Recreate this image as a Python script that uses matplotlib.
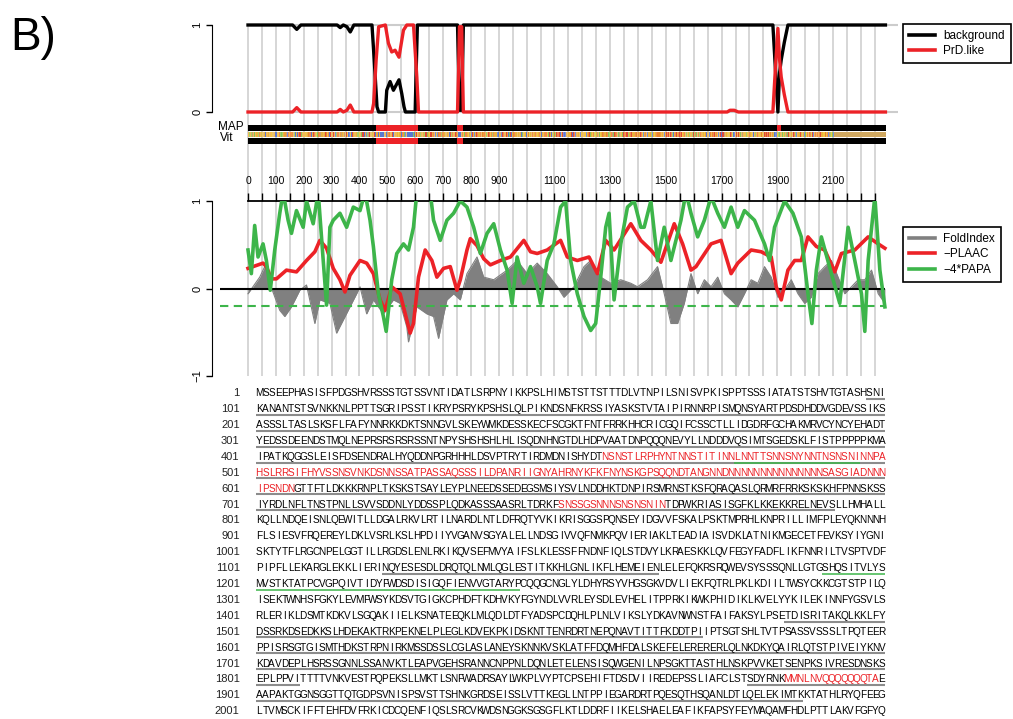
import numpy as np
import matplotlib
matplotlib.use('Agg')
import matplotlib.pyplot as plt
from matplotlib.lines import Line2D
from matplotlib.colors import to_rgb

W, H = 1013, 719
plt.rcParams['font.family'] = ['Liberation Sans', 'DejaVu Sans']
NARROW = ['Liberation Sans Narrow', 'Liberation Sans', 'DejaVu Sans']

# --- data -------------------------------------------------------------
L = 2288  # protein length

# top panel: posterior of the HMM states
bg_res = [0, 160, 175, 190, 320, 331, 342, 355, 367, 380, 445, 453, 463, 469, 493,
          498, 510, 522, 542, 552, 560, 565, 600, 603, 608, 752, 756, 759, 767, 770, 773,
          1884, 1893, 1902, 1908, 1914, 1925, 1938, L]
bg_val = [1, 1, 0.95, 1, 1, 0.97, 1, 0.98, 0.92, 1, 1, 0.6, 0.06, 0.0, 0.0,
          0.25, 0.35, 0.25, 0.37, 0.21, 0.06, 0.0, 0.0, 0.4, 1, 1, 0.5, 0.02, 0.02, 0.5, 1,
          1, 0.5, 0.0, 0.45, 0.6, 0.8, 1, 1]
prd_res = [0, 160, 175, 190, 320, 331, 342, 355, 367, 380, 445, 451, 460, 469, 493,
           504, 516, 528, 542, 558, 570, 594, 606, 612, 752, 756, 759, 767, 770, 773,
           1720, 1730, 1745, 1760, 1884, 1893, 1902, 1908, 1914, 1925, 1938, L]
prd_val = [0, 0, 0.05, 0, 0, 0.03, 0, 0.02, 0.08, 0, 0, 0.1, 0.6, 0.98, 1.0,
           0.79, 0.69, 0.71, 0.63, 0.94, 1.0, 1.0, 0.4, 0.0, 0, 0.5, 0.98, 0.98, 0.5, 0,
           0, 0.02, 0.02, 0, 0, 0.5, 0.96, 0.6, 0.4, 0.2, 0, 0]

# MAP / Viterbi PrD-like segments (residues)
map_segments = [(459, 609), (752, 771), (1898, 1910)]
vit_segments = [(459, 609), (752, 771)]

# bottom panel
fold_res = [0, 42, 60, 78, 114, 132, 156, 186, 210, 240, 258, 294, 318, 342, 366, 390, 402,
            426, 450, 486, 522, 546, 570, 576, 606, 642, 666, 684, 714, 738, 762, 786, 822,
            846, 882, 930, 966, 1002, 1038, 1074, 1110, 1134, 1170, 1206, 1230, 1266, 1302,
            1338, 1374, 1398, 1434, 1470, 1494, 1518, 1542, 1566, 1590, 1614, 1638, 1662,
            1686, 1710, 1734, 1758, 1782, 1806, 1830, 1854, 1878, 1902, 1926, 1950, 1974,
            1998, 2022, 2046, 2070, 2094, 2118, 2142, 2166, 2190, 2214, 2238, 2262, 2286]
fold_val = [-0.06, 0.13, 0.25, 0.06, -0.25, -0.32, -0.21, -0.02, 0.04, -0.40, -0.13, -0.17,
            -0.51, -0.36, -0.21, -0.06, 0.02, -0.29, -0.13, -0.29, -0.13, -0.17, -0.44, -0.61,
            -0.21, -0.29, -0.32, -0.57, -0.13, -0.06, -0.13, 0.17, 0.36, 0.13, 0.10, 0.21,
            0.32, 0.17, 0.29, 0.17, 0.02, -0.10, 0.02, 0.25, 0.32, 0.13, 0.06, 0.10, 0.06,
            0.02, 0.10, 0.25, -0.06, -0.40, -0.40, -0.17, 0.17, -0.06, 0.10, 0.02, 0.13,
            -0.06, -0.13, -0.21, -0.06, 0.10, 0.06, 0.25, 0.13, -0.10, -0.02, 0.10, -0.06,
            -0.17, -0.10, 0.17, 0.25, 0.32, 0.13, -0.06, 0.02, 0.10, 0.10, 0.21, -0.06, -0.17]

plaac_res = [0, 54, 66, 84, 102, 138, 174, 210, 240, 258, 282, 306, 330, 348, 366, 402, 426,
             450, 474, 492, 516, 546, 570, 582, 594, 612, 636, 660, 678, 702, 726, 750, 762,
             786, 798, 822, 846, 870, 906, 942, 990, 1014, 1038, 1074, 1122, 1146, 1182, 1224,
             1254, 1284, 1314, 1374, 1410, 1446, 1482, 1530, 1560, 1590, 1608, 1662, 1698,
             1734, 1758, 1806, 1842, 1878, 1896, 1914, 1938, 1962, 1986, 2010, 2040, 2070,
             2106, 2130, 2178, 2226, 2262, 2286]
plaac_val = [0.23, 0.29, 0.25, 0.11, 0.11, 0.21, 0.19, 0.32, 0.42, 0.55, 0.46, 0.23, 0.10,
             -0.04, 0.15, 0.32, 0.29, 0.17, -0.13, -0.25, 0.02, -0.06, -0.36, -0.51, -0.40,
             0.13, 0.44, 0.32, 0.13, 0.23, 0.25, -0.02, 0.10, 0.44, 0.57, 0.49, 0.34, 0.27,
             0.32, 0.36, 0.55, 0.42, 0.40, 0.44, 0.55, 0.36, 0.32, 0.36, 0.17, 0.55, 0.44,
             0.74, 0.55, 0.44, 0.30, 0.74, 0.51, 0.21, 0.25, 0.51, 0.55, 0.17, 0.29, 0.44,
             0.42, 0.36, 0.02, -0.13, 0.21, 0.32, 0.32, 0.59, 0.48, 0.44, 0.19, 0.40, 0.44,
             0.59, 0.51, 0.46]

papa_res = [0, 12, 24, 36, 54, 66, 80, 96, 114, 126, 144, 156, 174, 198, 210, 234, 252, 270,
            282, 294, 306, 330, 354, 378, 402, 420, 438, 450, 468, 486, 496, 516, 534, 558,
            576, 594, 606, 630, 654, 666, 690, 714, 738, 762, 786, 810, 834, 858, 882, 906,
            930, 948, 966, 990, 1014, 1038, 1050, 1074, 1098, 1122, 1140, 1158, 1182, 1206,
            1230, 1248, 1266, 1284, 1296, 1314, 1338, 1362, 1386, 1410, 1422, 1446, 1470,
            1494, 1518, 1554, 1572, 1590, 1614, 1638, 1662, 1686, 1710, 1734, 1758, 1782,
            1818, 1854, 1872, 1890, 1926, 1956, 1986, 2010, 2024, 2040, 2058, 2094, 2124,
            2154, 2178, 2202, 2214, 2226, 2250, 2268, 2286]
papa_val = [0.44, 0.17, 0.72, 0.36, 0.51, 0.32, -0.02, 0.44, 0.86, 1.1, 0.78, 0.63, 0.89,
            0.70, 1.0, 0.74, 1.1, 0.32, -0.19, 0.70, 0.78, 0.86, 0.70, 0.93, 0.89, 1.1, 0.78,
            0.48, -0.06, -0.32, -0.49, 0.10, 0.40, 0.51, 0.44, 0.70, 1.1, 1.2, 1.1, 0.78, 0.55,
            0.78, 0.86, 1.0, 0.93, 0.70, 0.40, 0.63, 0.74, 0.44, 0.21, -0.17, 0.36, 0.06, 0.25,
            0.02, -0.17, 0.32, 0.51, 0.93, 1.0, 0.32, -0.06, -0.32, -0.48, -0.40, 0.13, 0.70,
            0.86, -0.13, 0.51, 0.93, 1.0, 0.70, 0.70, 1.0, 0.32, 0.70, 0.32, 0.78, 1.1, 0.86,
            0.59, 0.78, 1.05, 0.86, 0.70, 0.93, 0.70, 0.89, 0.78, 0.51, 0.32, 0.70, 1.0, 0.86,
            0.59, -0.06, -0.40, 0.21, 0.59, 0.17, -0.17, 0.70, 0.32, -0.06, -0.49, 0.32, 1.05,
            0.21, -0.21]
papa_cut = -0.2

ruler_labels = [0, 100, 200, 300, 400, 500, 600, 700, 800, 900, 1100, 1300, 1500, 1700, 1900, 2100]

seq_rows = [
    "MSSEEPHASISFPDGSHVRSSSTGTSSVNTIDATLSRPNYIKKPSLHIMSTSTTSTTTDLVTNPILSNISVPKISPPTSSSIATATSTSHVTGTASHSNI",
    "KANANTSTSVNKKNLPPTTSGRIPSSTIKRYPSRYKPSHSLQLPIKNDSNFKRSSIYASKSTVTAIPIRNNRPISMQNSYARTPDSDHDDVGDEVSSIKS",
    "ASSSLTASLSKSFLFAFYNNRKKDKTSNNGVLSKEYWMKDESSKECFSCGKTFNTFRRKHHCRICGQIFCSSCTLLIDGDRFGCHAKMRVCYNCYEHADT",
    "YEDSSDEENDSTMQLNEPRSRSRSRSSNTNPYSHSHSHLHLISQDNHNGTDLHDPVAATDNPQQQNEVYLLNDDDVQSIMTSGEDSKLFISTPPPPPKMA",
    "IPATKQGGSLEISFDSENDRALHYQDDNPGRHHHLDSVPTRYTIRDMDNISHYDTNSNSTLRPHYNTNNSTITINNLNNTTSNNSNYNNTNSNSNINNPA",
    "HSLRRSIFHYVSSNSVNKDSNNSSATPASSAQSSSILDPANRIIGNYAHRNYKFKFNYNSKGPSQQNDTANGNNDNNNNNNNNNNNNNNNSASGIADNNN",
    "IPSNDNGTTFTLDKKKRNPLTKSKSTSAYLEYPLNEEDSSEDEGSMSIYSVLNDDHKTDNPIRSMRNSTKSFQRAQASLQRMRFRRKSKSKHFPNNSKSS",
    "IYRDLNFLTNSTPNLLSVVSDDNLYDDSSPLQDKASSSAASRLTDRKFSNSSGSNNNSNSNSNINTDPWKRIASISGFKLKKEKKRELNEVSLLHMHALL",
    "KQLLNDQEISNLQEWITLLDGALRKVLRTILNARDLNTLDFRQTYVKIKRISGGSPQNSEYIDGVVFSKALPSKTMPRHLKNPRILLIMFPLEYQKNNNH",
    "FLSIESVFRQEREYLDKLVSRLKSLHPDIIYVGANVSGYALELLNDSGIVVQFNMKPQVIERIAKLTEADIAISVDKLATNIKMGECETFEVKSYIYGNI",
    "SKTYTFLRGCNPELGGTILLRGDSLENLRKIKQVSEFMVYAIFSLKLESSFFNDNFIQLSTDVYLKRAESKKLQVFEGYFADFLIKFNNRILTVSPTVDF",
    "PIPFLLEKARGLEKKLIERINQYESESDLDRQTQLNMLQGLESTITKKHLGNLIKFLHEMEIENLELEFQKRSRQWEVSYSSSQNLLGTGSHQSITVLYS",
    "MVSTKTATPCVGPQIVTIDYFWDSDISIGQFIENVVGTARYPCQQGCNGLYLDHYRSYVHGSGKVDVLIEKFQTRLPKLKDIILTWSYCKKCGTSTPILQ",
    "ISEKTWNHSFGKYLEVMFWSYKDSVTGIGKCPHDFTKDHVKYFGYNDLVVRLEYSDLEVHELITPPRKIKWKPHIDIKLKVELYYKILEKINNFYGSVLS",
    "RLERIKLDSMTKDKVLSGQAKIIELKSNATEEQKLMLQDLDTFYADSPCDQHLPLNLVIKSLYDKAVNWNSTFAIFAKSYLPSETDISRITAKQLKKLFY",
    "DSSRKDSEDKKSLHDEKAKTRKPEKNELPLEGLKDVEKPKIDSKNTTENRDRTNEPQNAVTITTFKDDTPIIPTSGTSHLTVTPSASSVSSSLTPQTEER",
    "PPISRSGTGISMTHDKSTRPNIRKMSSDSSLCGLASLANEYSKNNKVSKLATFFDQMHFDALSKEFELERERERLQLNKDKYQAIRLQTSTPIVEIYKNV",
    "KDAVDEPLHSRSSGNNLSSANVKTLEAPVGEHSRANNCNPPNLDQNLETELENSISQWGENILNPSGKTTASTHLNSKPVVKETSENPKSIVRESDNSKS",
    "EPLPPVITTTTVNKVESTPQPEKSLLMKTLSNFWADRSAYLWKPLVYPTCPSEHIFTDSDVIIREDEPSSLIAFCLSTSDYRNKMMNLNVQQQQQQQTAE",
    "AAPAKTGGNSGGTTQTGDPSVNISPSVSTTSHNKGRDSEISSLVTTKEGLLNTPPIEGARDRTPQESQTHSQANLDTLQELEKIMTKKTATHLRYQFEEG",
    "LTVMSCKIFFTEHFDVFRKICDCQENFIQSLSRCVKWDSNGGKSGSGFLKTLDDRFIIKELSHAELEAFIKFAPSYFEYMAQAMFHDLPTTLAKVFGFYQ",
]
red_text = [(456, 606), (749, 765), (1885, 1899)]
gray_underline = [(98, 792), (1121, 1164), (1485, 1571), (1601, 1807), (1879, 1987)]
green_underline = [(477, 496), (1191, 1242)]

aa_colors = {
    'A': '#f2c744', 'V': '#f2c744', 'L': '#e9b23c', 'I': '#e9b23c', 'M': '#d8c24a',
    'F': '#e8862e', 'W': '#e8862e', 'Y': '#ef9d3a', 'C': '#d9d65a',
    'D': '#e24a3a', 'E': '#e24a3a', 'K': '#f08a50', 'R': '#f08a50', 'H': '#c8a070',
    'N': '#5a78d0', 'Q': '#7a8fd8', 'S': '#f0b858', 'T': '#e8c070',
    'G': '#86c45c', 'P': '#a8cf66',
}

RED = '#ec2227'
GREEN = '#3db54a'
GREY = '#808080'

# --- figure -----------------------------------------------------------
fig = plt.figure(figsize=(W / 100, H / 100), dpi=100)

X0, PPR = 248.0, 0.2786          # pixel of residue 0, pixels per residue
AX_L, AX_R = 212, 900
XLIM = ((AX_L - X0) / PPR, (AX_R - X0) / PPR)


def add_ax(left, top, right, bottom, **kw):
    return fig.add_axes([left / W, 1 - bottom / H, (right - left) / W, (bottom - top) / H], **kw)


# grey vertical grid every 50 residues, behind everything
ax_grid = add_ax(AX_L, 25, AX_R, 376)
ax_grid.set_xlim(XLIM)
ax_grid.set_ylim(0, 1)
ax_grid.axis('off')
for g in range(0, 2251, 50):
    ax_grid.axvline(g, color='#cfcfcf', lw=1.2, zorder=0)

# top panel
ax_top = add_ax(AX_L, 20, AX_R, 117)
ax_top.patch.set_alpha(0)
ax_top.set_xlim(XLIM)
ax_top.set_ylim(-5 / 87, 1 + 5 / 87)
ax_top.hlines([0, 1], 0, 2334, color='#cccccc', lw=1.5, zorder=1)
ax_top.plot(bg_res, bg_val, color='black', lw=2.4, zorder=3)
ax_top.plot(prd_res, prd_val, color=RED, lw=2.4, zorder=4)
for s in ['top', 'right', 'bottom']:
    ax_top.spines[s].set_visible(False)
ax_top.spines['left'].set_bounds(0, 1)
ax_top.set_xticks([])
ax_top.set_yticks([0, 1])
ax_top.set_yticklabels(['0', '1'], rotation=90, va='center', fontsize=8)
ax_top.tick_params(axis='y', length=4, width=1, pad=3)

# MAP / Vit bars with the sequence stripe between them
ax_bar = add_ax(AX_L, 125, AX_R, 144)
ax_bar.patch.set_alpha(0)


def segment_rgb(segments):
    rgb = np.zeros((1, L, 3))
    for a, b in segments:
        rgb[0, a - 1:b] = to_rgb(RED)
    return rgb


sequence = ''.join(seq_rows)
stripe = np.ones((1, L, 3)) * np.array(to_rgb('#d0a860'))
for i, aa in enumerate(sequence[:L]):
    stripe[0, i] = to_rgb(aa_colors.get(aa, '#d0a860'))

ax_bar.imshow(segment_rgb(map_segments), extent=(0.5, L + 0.5, 6, 0), aspect='auto', interpolation='nearest')
ax_bar.imshow(stripe, extent=(0.5, L + 0.5, 11.7, 6.7), aspect='auto', interpolation='nearest')
ax_bar.imshow(segment_rgb(vit_segments), extent=(0.5, L + 0.5, 19, 13.3), aspect='auto', interpolation='nearest')
ax_bar.set_xlim(XLIM)
ax_bar.set_ylim(19, 0)
ax_bar.axis('off')
ax_bar.text(-106, 1.7, 'MAP', ha='left', va='center', fontsize=8.5, family=NARROW)
ax_bar.text(-100, 13.3, 'Vit', ha='left', va='center', fontsize=8.5, family=NARROW)

# bottom panel
ax_bot = add_ax(AX_L, 201, AX_R, 381)
ax_bot.patch.set_alpha(0)
ax_bot.set_xlim(XLIM)
ax_bot.set_ylim(-1 - 5 / 87.5, 1)
ax_bot.fill_between(fold_res, fold_val, 0, color=GREY, lw=0, zorder=2)
ax_bot.plot(fold_res, fold_val, color=GREY, lw=0.8, zorder=2)
ax_bot.hlines(0, -100, L, color='black', lw=1.5, zorder=3)
ax_bot.hlines(papa_cut, -100, L, color=GREEN, lw=1.5, linestyles=(0, (4, 2.6)), zorder=3)
ax_bot.plot(plaac_res, plaac_val, color=RED, lw=2.6, zorder=4)
ax_bot.plot(papa_res, papa_val, color=GREEN, lw=2.6, zorder=5)
for s in ['right', 'bottom']:
    ax_bot.spines[s].set_visible(False)
ax_bot.spines['left'].set_bounds(-1, 1)
ax_bot.spines['top'].set_bounds(0, 2250)
ax_bot.spines['top'].set_linewidth(1.3)
ax_bot.set_yticks([-1, 0, 1])
ax_bot.set_yticklabels(['\u22121', '0', '1'], rotation=90, va='center', fontsize=8)
ax_bot.tick_params(axis='y', length=4, width=1, pad=3)
ax_bot.xaxis.tick_top()
ruler_ticks = list(range(0, 2251, 50))
ax_bot.set_xticks(ruler_ticks)
ax_bot.set_xticklabels([str(t) if t in ruler_labels else '' for t in ruler_ticks],
                       fontsize=7.5, family=NARROW)
ax_bot.tick_params(axis='x', length=6, width=1, pad=5)

# legends
leg_kw = dict(loc='upper left', frameon=True, fancybox=False, edgecolor='black', framealpha=1,
              fontsize=8.5, handlelength=2.2, handletextpad=0.7, labelspacing=0.3,
              borderpad=0.5, borderaxespad=0)
leg1 = fig.legend([Line2D([], [], color='black', lw=2.6), Line2D([], [], color=RED, lw=2.6)],
                  ['background', 'PrD.like'], bbox_to_anchor=(903 / W, 1 - 24 / H), **leg_kw)
leg1.get_frame().set_linewidth(1.2)
leg2 = fig.legend([Line2D([], [], color=GREY, lw=2.6), Line2D([], [], color=RED, lw=2.6),
                   Line2D([], [], color=GREEN, lw=2.6)],
                  ['FoldIndex', '\u2212PLAAC', '\u22124*PAPA'], bbox_to_anchor=(903 / W, 1 - 227 / H), **leg_kw)
leg2.get_frame().set_linewidth(1.2)

# annotated sequence
ax_txt = add_ax(256, 384, 885, 718)
ax_txt.set_xlim(0, 100)
ax_txt.set_ylim(20 + 8 / 15.9, -8 / 15.9)
ax_txt.axis('off')


def in_ranges(res, ranges):
    return any(a <= res <= b for a, b in ranges)


def draw_underlines(ranges, color, lw, dy):
    for a, b in ranges:
        for r in range((a - 1) // 100, (b - 1) // 100 + 1):
            s = max(a, r * 100 + 1) - r * 100 - 1
            e = min(b, r * 100 + 100) - r * 100
            ax_txt.plot([s, e], [r + dy, r + dy], color=color, lw=lw, solid_capstyle='butt')


for r, row in enumerate(seq_rows):
    ax_txt.text(-2.6, r + 0.27, str(r * 100 + 1), ha='right', va='baseline',
                fontsize=8, family=NARROW, color='#222222')
    for j, ch in enumerate(row):
        res = r * 100 + j + 1
        ax_txt.text(j + 0.5, r + 0.27, ch, ha='center', va='baseline', fontsize=7.2,
                    family=NARROW, color=RED if in_ranges(res, red_text) else 'black')

draw_underlines(gray_underline, '#8c8c8c', 1.5, 0.44)
draw_underlines(green_underline, GREEN, 1.1, 0.47)

fig.text(10 / W, 1 - 38 / H, 'B)', fontsize=33, va='center', ha='left')

plt.savefig('out.png', dpi=100)
